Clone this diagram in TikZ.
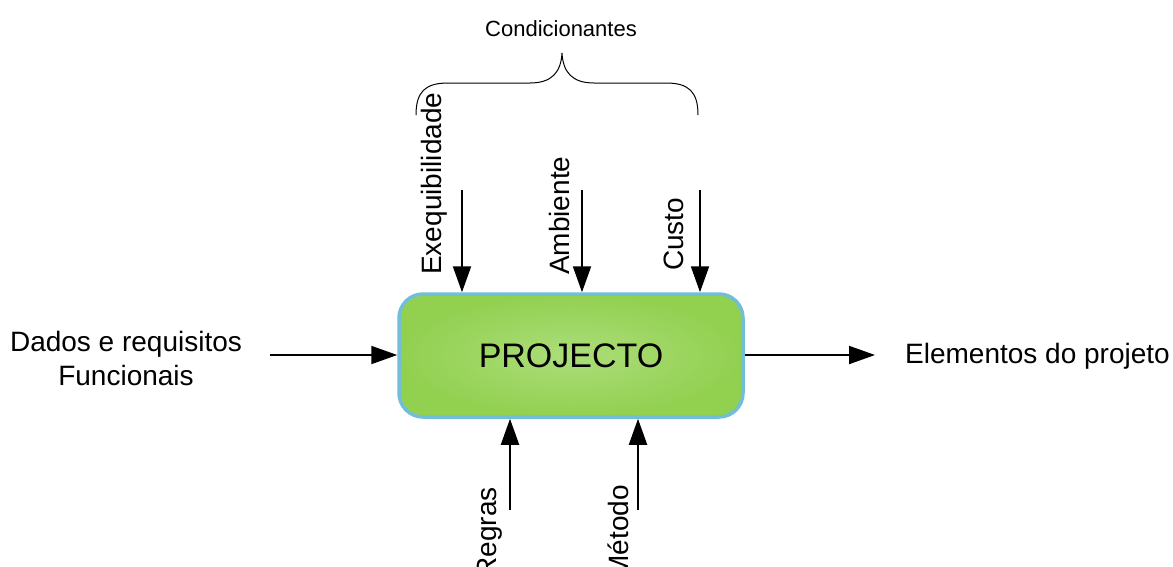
\documentclass[tikz,border=0pt]{standalone}
\usepackage{fontspec}
\setmainfont{Liberation Sans}
\usetikzlibrary{arrows.meta}
\definecolor{boxgreen}{RGB}{146,208,80}
\definecolor{boxlight}{RGB}{172,222,122}
\definecolor{boxborder}{RGB}{112,190,216}
\tikzset{
  arr/.style={line width=2pt,-{Triangle[length=26pt,width=18pt]}},
  lbl/.style={inner sep=0pt,font=\fontsize{28}{34}\selectfont},
  vlbl/.style={lbl,rotate=90,anchor=west},
  vlbltop/.style={lbl,rotate=90,anchor=east},
}
\begin{document}
\begin{tikzpicture}[x=1pt,y=-1pt]
\useasboundingbox (0,0) rectangle (1173,566);
% main box
\node[draw=boxborder,line width=3.5pt,rounded corners=24pt,
      inner color=boxlight,outer color=boxgreen,
      minimum width=344pt,minimum height=123pt,
      font=\fontsize{34}{40}\selectfont] (P) at (571,355.5) {PROJECTO};
% left input
\node[lbl,align=center] (din) at (126,358) {Dados e requisitos\\Funcionais};
\coordinate (lin) at (270,355);
\draw[arr] (lin) -- (lin -| P.west);
% right output
\node[lbl,anchor=west] (dout) at (905,356) {Elementos do projeto};
\coordinate (rout) at (P.east |- 0,355);
\coordinate (rend) at (875,355);
\draw[arr] (rout) -- (rend);
% top controls
\coordinate (t1) at (462,190);
\coordinate (t2) at (582,190);
\coordinate (t3) at (700,190);
\draw[arr] (t1) -- (t1 |- P.north);
\draw[arr] (t2) -- (t2 |- P.north);
\draw[arr] (t3) -- (t3 |- P.north);
\node[vlbl] (ex) at (434,275) {Exequibilidade};
\node[vlbl] (am) at (559,275) {Ambiente};
\node[vlbl] (cu) at (674,271) {Custo};
% bottom mechanisms
\coordinate (b1) at (510,510);
\coordinate (b2) at (638,510);
\draw[arr] (b1) -- (b1 |- P.south);
\draw[arr] (b2) -- (b2 |- P.south);
\node[vlbltop] (rg) at (490,487) {Regras};
\node[vlbltop] (me) at (618,485) {Método};
% brace
\draw[line width=1pt] (416,115) .. controls (416,92) and (425,83) .. (448,83)
  -- (530,83) .. controls (552,83) and (561,72) .. (562,53)
  .. controls (563,72) and (572,83) .. (594,83)
  -- (666,83) .. controls (689,83) and (698,92) .. (698,115);
\node[inner sep=0pt,font=\fontsize{22}{26}\selectfont] (cond) at (561,29) {Condicionantes};
\end{tikzpicture}
\end{document}
